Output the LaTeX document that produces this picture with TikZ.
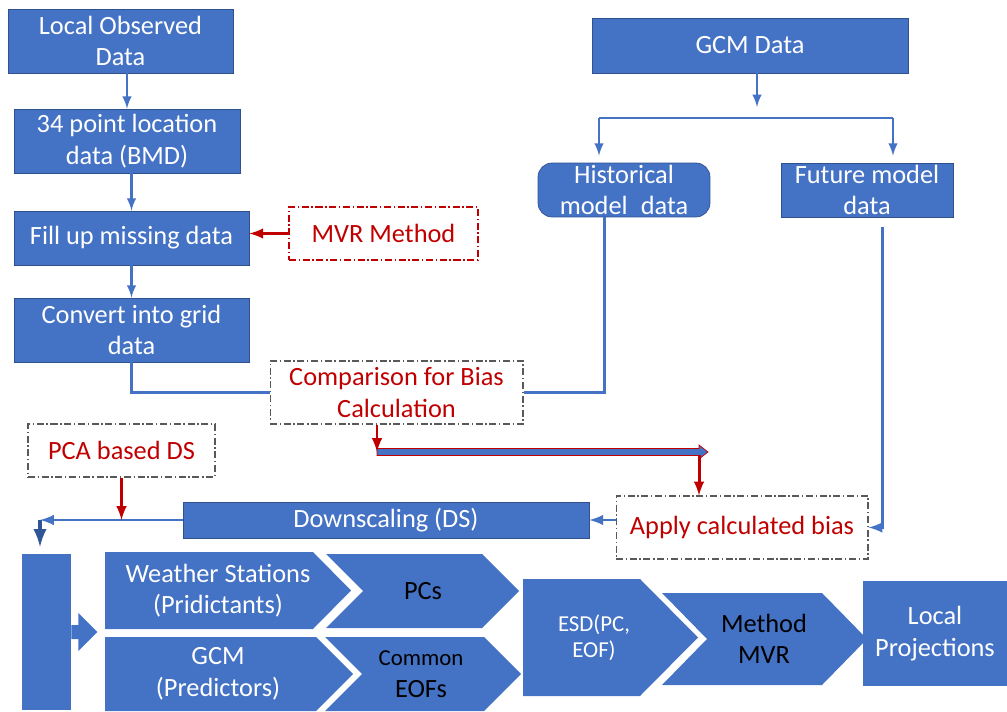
\documentclass[tikz,border=0pt]{standalone}
\usepackage{fontspec}
\setmainfont{Carlito}
\usepackage{tikz}
\usetikzlibrary{shapes,arrows,calc,positioning}
\definecolor{boxblue}{RGB}{68,114,196}
\definecolor{edgeblue}{RGB}{47,82,143}
\definecolor{darkblue}{RGB}{47,85,151}
\definecolor{darkred}{RGB}{192,0,0}
\definecolor{dashgray}{RGB}{89,89,89}
\newcommand{\bigfont}{\fontsize{15}{18}\selectfont}
\newcommand{\smallfont}{\fontsize{13}{15}\selectfont}

\begin{document}
\begin{tikzpicture}[x=0.02cm, y=-0.02cm]
\tikzstyle{box}=[draw=edgeblue, fill=boxblue, line width=0.4pt, inner sep=0pt, align=center, text=white, font=\bigfont]
\tikzstyle{note}=[draw=dashgray, dash pattern=on 4pt off 1.5pt on 0.8pt off 1.5pt, line width=0.6pt, inner sep=0pt, align=center, text=darkred, font=\bigfont]
\tikzstyle{label}=[inner sep=0pt, align=center, text=white, font=\bigfont]
\tikzstyle{flow}=[-latex, boxblue, line width=1.7pt]
\tikzstyle{redflow}=[-latex, darkred, line width=1.7pt]

\useasboundingbox (0,0) rectangle (1007,712);

% observed data chain
\node [box, minimum width=4.5cm, minimum height=1.28cm] (loc) at (120.5,41) {Local Observed\\Data};
\node [box, minimum width=4.52cm, minimum height=1.28cm] (pts) at (127,141) {34 point location\\data (BMD)};
\node [box, minimum width=4.7cm, minimum height=1.08cm] (fillup) at (131.5,238) {Fill up missing data};
\node [note, draw=darkred, minimum width=3.78cm, minimum height=1.06cm] (mvr) at (383.5,233.5) {MVR Method};
\node [box, minimum width=4.7cm, minimum height=1.28cm] (grid) at (131.5,330) {Convert into grid\\data};

% GCM side
\node [box, minimum width=6.32cm, minimum height=1.1cm] (gcm) at (750,45.5) {GCM Data};
\node [box, rounded corners=8pt, minimum width=3.44cm, minimum height=1.08cm] (hist) at (624,190) {Historical\\model\enspace data};
\node [box, minimum width=3.44cm, minimum height=1.08cm] (fut) at (867,190) {Future model\\data};

% bias and downscaling
\node [note, minimum width=5.06cm, minimum height=1.26cm] (comp) at (396.5,392.5) {Comparison for Bias\\Calculation};
\node [note, minimum width=3.74cm, minimum height=1.06cm] (pca) at (121.5,450.5) {PCA based DS};
\node [box, minimum width=8.12cm, minimum height=0.72cm] (ds) at (386,520) {Downscaling (DS)};
\node [note, minimum width=5.04cm, minimum height=1.26cm] (bias) at (742,527.5) {Apply calculated bias};

% ESD chain
\node [box, draw=none, minimum width=0.98cm, minimum height=3.12cm] (bar) at (46.5,632) {};
\fill [boxblue] (bar.east) ++(0,-7) -- ++(7,0) -- ++(0,-12) -- ++(19,19) -- ++(-19,19) -- ++(0,-12) -- ++(-7,0) -- cycle;

\fill [boxblue] (105,552) -- (313,552) -- (351,590.5) -- (313,629) -- (105,629) -- cycle;
\fill [boxblue] (105,637) -- (316,637) -- (353,674) -- (316,711) -- (105,711) -- cycle;
\fill [boxblue] (326,554) -- (482,554) -- (519,591) -- (482,628) -- (326,628) -- (363,591) -- cycle;
\fill [boxblue] (325,637) -- (484,637) -- (521,674) -- (484,711) -- (325,711) -- (362,674) -- cycle;
\fill [boxblue] (523,579) -- (640,579) -- (698,637.5) -- (640,696) -- (523,696) -- cycle;
\fill [boxblue] (662,593) -- (822,593) -- (867,639) -- (822,685) -- (662,685) -- (707,639) -- cycle;

\node [label] (ws) at (218,590.5) {Weather Stations\\(Pridictants)};
\node [label] (gcmp) at (218,674) {GCM\\(Predictors)};
\node [label, text=black] (pcs) at (423,591) {PCs};
\node [label, text=black] (eofs) at (421,674) {{\smallfont Common}\\EOFs};
\node [label, font=\smallfont] (esd) at (594,637.5) {ESD(PC,\\EOF)};
\node [label, text=black] (meth) at (764,639) {Method\\MVR};
\node [box, draw=none, minimum width=2.88cm, minimum height=2.1cm] (proj) at (935,633.5) {Local\\Projections};

\coordinate (brl) at (599,118);
\coordinate (brr) at (893,118);
\coordinate (bl) at (377,452);
\coordinate (br) at (708,452);
\coordinate (bt) at (699,455);
\coordinate (dcorner) at (40,520);

\draw [flow, line width=1.4pt] (loc.south -| pts.north) -- (pts.north);
\draw [flow, line width=1.4pt] (pts.south -| fillup.north) -- (fillup.north);
\draw [flow, line width=1.4pt] (fillup) -- (grid);
\draw [redflow] (mvr.west) -- (mvr.west -| fillup.east);

\draw [flow, line width=1.4pt] (gcm.south -| 757,0) -- (757,107);
\draw [boxblue, line width=0.9pt] (brl) -- (brr);
\draw [flow, line width=1.4pt] (brl) -- ([yshift=4pt]brl |- hist.north);
\draw [flow, line width=1.4pt] (brr) -- ([yshift=4pt]brr |- fut.north);

\draw [boxblue, line width=1.7pt] (grid.south) |- (comp.west);
\draw [boxblue, line width=1.7pt] ([xshift=-0.4cm]hist.south) |- (comp.east);
\draw [flow] ([xshift=0.3cm,yshift=-0.2cm]fut.south) |- (bias.east);

\draw [redflow] (comp.south -| bl) -- (bl);
\filldraw [fill=boxblue, draw=darkred, line width=0.4pt] ($(bl)+(0,-3.5)$) -- ($(br)+(-9,-3.5)$) -- ($(br)+(-9,-7)$) -- (br) -- ($(br)+(-9,7)$) -- ($(br)+(-9,3.5)$) -- ($(bl)+(0,3.5)$) -- cycle;
\draw [redflow] (bt) -- (bt |- bias.north);

\draw [flow] (bias.west |- ds.east) -- (ds.east);
\draw [flow] (ds.west) -- (dcorner);
\draw [redflow] (pca.south) -- (pca.south |- dcorner);
\draw [-latex, darkblue, line width=2.4pt] (dcorner) -- ([yshift=4pt]dcorner |- bar.north);

\end{tikzpicture}
\end{document}
